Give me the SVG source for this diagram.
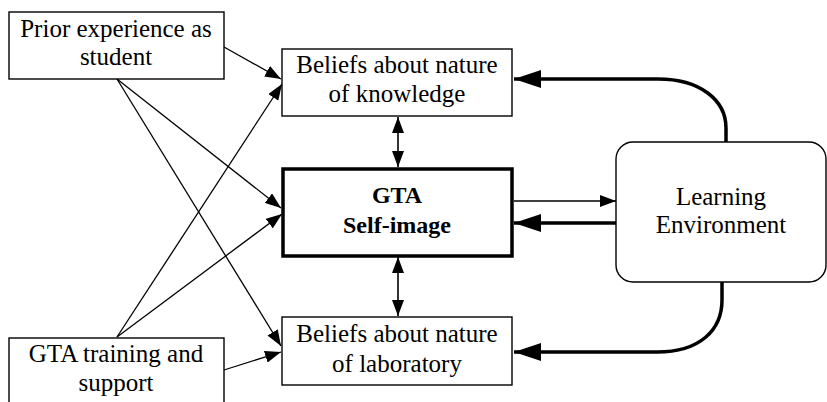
<svg xmlns="http://www.w3.org/2000/svg" width="827" height="402" viewBox="0 0 827 402">
<style>
  .box { fill: #fff; stroke: #000; stroke-width: 1.4; }
  .bold { fill: #fff; stroke: #000; stroke-width: 3.5; }
  .t { font-family: "Liberation Serif", "Times New Roman", serif; font-size: 25px; fill: #000; text-anchor: middle; }
  .tb { font-weight: bold; font-size: 24px; }
  .thin { fill: none; stroke: #000; stroke-width: 1.3; marker-end: url(#ah); }
  .dbl { fill: none; stroke: #000; stroke-width: 1.6; marker-end: url(#ah); marker-start: url(#ah); }
  .thick { fill: none; stroke: #000; stroke-width: 3.5; marker-end: url(#ahb); }
</style>
<defs>
  <marker id="ah" markerUnits="userSpaceOnUse" markerWidth="16" markerHeight="12" refX="16" refY="6" orient="auto-start-reverse">
    <path d="M0,0 L16,6 L0,12 z" fill="#000"/>
  </marker>
  <marker id="ahb" markerUnits="userSpaceOnUse" markerWidth="27" markerHeight="18" refX="27" refY="9" orient="auto">
    <path d="M0,0 L27,9 L0,18 z" fill="#000"/>
  </marker>
</defs>
<rect width="827" height="402" fill="#fff"/>

<g id="connectors">
  <line class="thin" x1="224" y1="47" x2="281" y2="79"/>
  <line class="thin" x1="117" y1="79" x2="281" y2="208"/>
  <line class="thin" x1="117" y1="79" x2="281" y2="346"/>
  <line class="thin" x1="117" y1="337" x2="282" y2="84"/>
  <line class="thin" x1="117" y1="337" x2="282" y2="214"/>
  <line class="thin" x1="224" y1="370" x2="281" y2="352"/>
  <line class="dbl" x1="398" y1="117" x2="398" y2="167"/>
  <line class="dbl" x1="398" y1="257" x2="398" y2="316"/>
  <line class="thin" x1="514" y1="201" x2="616" y2="201"/>
  <line class="thick" x1="616" y1="223" x2="514" y2="223"/>
  <path class="thick" d="M726,142 L726,128 C726,100 700,79 658,79 L514,79"/>
  <path class="thick" d="M722,282 L722,300 C722,330 700,352 657,352 L514,352"/>
</g>

<g id="prior">
  <rect class="box" x="9" y="12" width="215" height="67"/>
  <text class="t" x="116" y="37">Prior experience as</text>
  <text class="t" x="116" y="65">student</text>
</g>

<g id="training">
  <rect class="box" x="9" y="338" width="215" height="70"/>
  <text class="t" x="116" y="362">GTA training and</text>
  <text class="t" x="116" y="391">support</text>
</g>

<g id="knowledge">
  <rect class="box" x="282" y="49" width="230" height="67"/>
  <text class="t" x="397" y="73">Beliefs about nature</text>
  <text class="t" x="397" y="102">of knowledge</text>
</g>

<g id="selfimage">
  <rect class="bold" x="283" y="169" width="229" height="87"/>
  <text class="t tb" x="397" y="203">GTA</text>
  <text class="t tb" x="397" y="233">Self-image</text>
</g>

<g id="laboratory">
  <rect class="box" x="282" y="317" width="230" height="68"/>
  <text class="t" x="397" y="342">Beliefs about nature</text>
  <text class="t" x="397" y="372">of laboratory</text>
</g>

<g id="learning">
  <rect class="box" x="616" y="142" width="210" height="140" rx="17" ry="17"/>
  <text class="t" x="721" y="205">Learning</text>
  <text class="t" x="721" y="233">Environment</text>
</g>
</svg>
